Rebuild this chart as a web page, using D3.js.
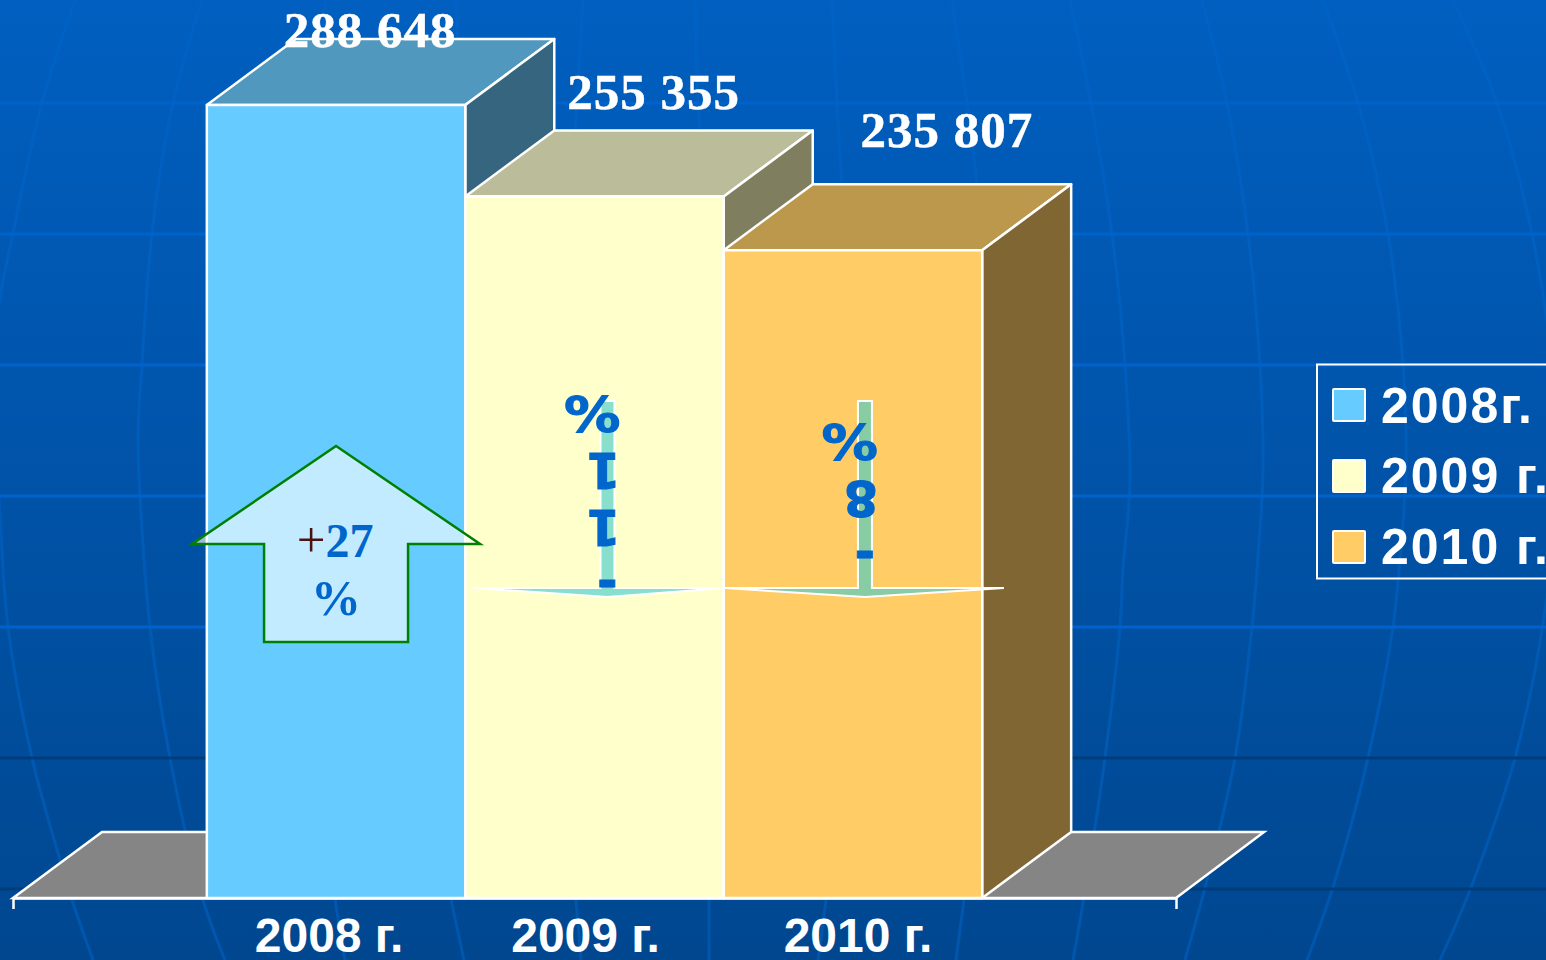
<!DOCTYPE html>
<html>
<head>
<meta charset="utf-8">
<script src="https://cdn.jsdelivr.net/npm/d3@7"></script>
<style>
  html, body { margin: 0; padding: 0; background: #004a98; overflow: hidden; }
  svg { display: block; }
</style>
</head>
<body>
<svg id="chart" width="1546" height="960"></svg>
<script>
const categories = ["2008 г.", "2009 г.", "2010 г."];
const values = [288648, 255355, 235807];
const valueLabels = ["288 648", "255 355", "235 807"];
const legendLabels = ["2008г.", "2009 г.", "2010 г."];
const frontColors = ["#66ccff", "#ffffcc", "#ffcc66"];
const topColors = ["#5098be", "#bbbd9a", "#bc984d"];
const sideColors = ["#36667f", "#7f7f60", "#7f6633"];
const downChanges = ["-11%", "-8%"];

// background globe grid, only decoration
const lightLats = [103, 234, 365, 496, 627];
const darkLats = [758, 889];
const meridians = [
  [[75,0],[42,103],[13,233],[-4,325],[-6,420],[0,515],[8,627],[32,758],[58,853],[72,900],[93,960]],
  [[202,0],[173,103],[152,233],[142,365],[138,434],[140,496],[150,627],[170,758],[203,900],[225,960]],
  [[325,0],[323,40]],
  [[335,900],[345,960]],
  [[456,0],[458,40]],
  [[451,900],[464,960]],
  [[583,0],[577,103],[575,132]],
  [[576,900],[581,960]],
  [[695,0],[698,103],[700,132]],
  [[709,900],[709,960]],
  [[832,0],[837,103],[842,185]],
  [[826,900],[818,960]],
  [[952,0],[967,103],[977,185]],
  [[964,900],[956,960]],
  [[1070,0],[1091,103],[1112,234],[1125,365],[1130,480],[1123,570],[1120,627],[1105,758],[1083,903],[1073,960]],
  [[1202,0],[1227,103],[1248,234],[1260,365],[1263,470],[1257,570],[1252,627],[1235,758],[1207,880],[1185,960]],
  [[1323,0],[1358,103],[1388,234],[1403,365],[1406,470],[1399,570],[1393,627],[1368,758],[1333,887],[1307,960]],
  [[1453,0],[1497,103],[1532,234],[1552,365],[1556,470],[1546,603],[1515,758],[1470,890],[1440,960]]
];

const baseY = 898, depthX = 89, depthY = -66;
const svg = d3.select("#chart");

const x = d3.scaleBand().domain(categories).range([13, 1176]).paddingInner(0).paddingOuter(0.75);
const y = d3.scaleLinear().domain([0, 288648]).range([baseY, 105]);

// background
const defs = svg.append("defs");
const grad = defs.append("linearGradient").attr("id", "bg").attr("x1", 0).attr("y1", 0).attr("x2", 0).attr("y2", 1);
grad.append("stop").attr("offset", "0%").attr("stop-color", "#005fc0");
grad.append("stop").attr("offset", "100%").attr("stop-color", "#004790");
const lineGrad = defs.append("linearGradient").attr("id", "meridian").attr("gradientUnits", "userSpaceOnUse")
  .attr("x1", 0).attr("y1", 0).attr("x2", 0).attr("y2", 960);
lineGrad.append("stop").attr("offset", "0%").attr("stop-color", "#0062c6");
lineGrad.append("stop").attr("offset", "100%").attr("stop-color", "#0056ac");
svg.append("rect").attr("width", 1546).attr("height", 960).attr("fill", "url(#bg)");

const bgLine = d3.line().curve(d3.curveCatmullRom);
svg.append("g").selectAll("path").data(meridians).join("path")
  .attr("d", bgLine).attr("fill", "none").attr("stroke", "url(#meridian)").attr("stroke-width", 3);
svg.append("g").selectAll("line").data(lightLats).join("line")
  .attr("x1", 0).attr("x2", 1546).attr("y1", d => d).attr("y2", d => d)
  .attr("stroke", "#0062cc").attr("stroke-width", 3);
svg.append("g").selectAll("line").data(darkLats).join("line")
  .attr("x1", 0).attr("x2", 1546).attr("y1", d => d).attr("y2", d => d)
  .attr("stroke", "#003c7c").attr("stroke-width", 3);

// floor
const x0 = x.range()[0], x1 = x.range()[1];
svg.append("polygon")
  .attr("points", [[x0, baseY], [x0 + depthX, baseY + depthY], [x1 + depthX - 1, baseY + depthY], [x1, baseY]].join(" "))
  .attr("fill", "#858585").attr("stroke", "#fff").attr("stroke-width", 2.5);

// bars, left to right so each one hides the side of the one before
const bw = x.bandwidth();
const bars = svg.append("g").selectAll("g").data(values).join("g")
  .attr("stroke", "#fff").attr("stroke-width", 2.5).attr("stroke-linejoin", "round");
bars.append("polygon")
  .attr("points", (d, i) => {
    const l = x(categories[i]), t = y(d);
    return [[l, t], [l + depthX, t + depthY], [l + bw + depthX, t + depthY], [l + bw, t]].join(" ");
  })
  .attr("fill", (d, i) => topColors[i]);
bars.append("polygon")
  .attr("points", (d, i) => {
    const r = x(categories[i]) + bw, t = y(d);
    return [[r, t], [r + depthX, t + depthY], [r + depthX, baseY + depthY], [r, baseY]].join(" ");
  })
  .attr("fill", (d, i) => sideColors[i]);
bars.append("rect")
  .attr("x", (d, i) => x(categories[i]))
  .attr("y", d => y(d))
  .attr("width", bw)
  .attr("height", d => baseY - y(d))
  .attr("fill", (d, i) => frontColors[i]);

// x axis
const axis = svg.append("g")
  .attr("transform", `translate(0,${baseY})`)
  .call(d3.axisBottom(x).tickSizeInner(0).tickSizeOuter(11).tickPadding(20));
axis.select(".domain").attr("stroke", "#fff").attr("stroke-width", 2.5).attr("fill", "none");
axis.selectAll(".tick line").remove();
axis.selectAll(".tick text")
  .attr("fill", "#fff")
  .attr("dx", (d, i) => [-7, -9, 5][i])
  .style("font", "bold 48px 'Liberation Sans'");

// value labels
svg.append("g").selectAll("text").data(valueLabels).join("text")
  .attr("x", (d, i) => x(categories[i]) + bw / 2 + [34, 59, 94][i])
  .attr("y", (d, i) => y(values[i]) - [58, 87, 103][i])
  .attr("text-anchor", "middle")
  .attr("fill", "#fff")
  .attr("stroke", "#fff").attr("stroke-width", 0.5)
  .style("font", "bold 51px 'Liberation Serif'")
  .style("letter-spacing", "1px")
  .text(d => d);

// up arrow on the first bar
const cx0 = x(categories[0]) + bw / 2;
svg.append("polygon")
  .attr("points", [[0, 446], [144, 544], [72, 544], [72, 642], [-72, 642], [-72, 544], [-144, 544]]
    .map(p => [cx0 + p[0], p[1]]).join(" "))
  .attr("fill", "#fff").attr("fill-opacity", 0.61)
  .attr("stroke", "#008000").attr("stroke-width", 2.5);
const upText = svg.append("text").attr("x", cx0 - 1).attr("y", 557).attr("text-anchor", "middle")
  .style("font", "bold 48px 'Liberation Serif'");
upText.append("tspan").attr("fill", "#4b1010").style("font-weight", "normal").style("font-size", "51px").text("+");
upText.append("tspan").attr("fill", "#0066cc").text("27");
svg.append("text").attr("x", cx0).attr("y", 615).attr("text-anchor", "middle")
  .attr("fill", "#0066cc").style("font", "bold 50px 'Liberation Serif'").text("%");

// down arrows: a narrow shape, its text stacked and turned upside down
const downBars = [1, 2];
const barbs = [[-135, 117], [-140, 139]];
const hyphenBase = [569, 540];
downBars.forEach((b, k) => {
  const cx = x(categories[b]) + bw / 2 + [13, 12][k];
  const [bl, br] = barbs[k];
  svg.append("polygon")
    .attr("points", [[-7, 401], [7, 401], [7, 588], [br, 588], [0, 597], [bl, 588], [-7, 588]]
      .map(p => [cx + p[0], p[1]]).join(" "))
    .attr("fill", "#3ccccc").attr("fill-opacity", 0.61)
    .attr("stroke", "#fff").attr("stroke-width", 2);
  downChanges[k].split("").forEach((ch, i) => {
    const isHyphen = ch === "-", isPct = ch === "%";
    const gx = cx + 10 + (isHyphen ? 0 : 3);
    const gy = hyphenBase[k] - i * 57 - (isHyphen ? 0 : 2);
    svg.append("text")
      .attr("transform", `translate(${gx},${gy}) rotate(180)${isPct ? " scale(1.15,1)" : ""}`)
      .attr("fill", "#0066cc")
      .attr("stroke", "#0066cc").attr("stroke-width", 1)
      .style("font", "bold 49px 'DejaVu Sans'")
      .text(ch);
  });
});

// legend, runs off the right edge like the original
const legend = svg.append("g");
legend.append("rect").attr("x", 1317).attr("y", 364.5).attr("width", 260).attr("height", 214)
  .attr("fill", "none").attr("stroke", "#fff").attr("stroke-width", 2);
const rows = legend.selectAll("g").data(legendLabels).join("g");
rows.append("rect").attr("x", 1333).attr("y", (d, i) => 389 + [0, 71, 142][i]).attr("width", 32).attr("height", 32).attr("rx", 1)
  .attr("fill", (d, i) => frontColors[i]).attr("stroke", "#fff").attr("stroke-width", 2);
rows.append("text").attr("x", 1381).attr("y", (d, i) => 423 + [0, 70, 141][i]).attr("fill", "#fff")
  .style("font", "bold 50px 'Liberation Sans'")
  .style("letter-spacing", "2px")
  .text(d => d);
</script>
</body>
</html>
